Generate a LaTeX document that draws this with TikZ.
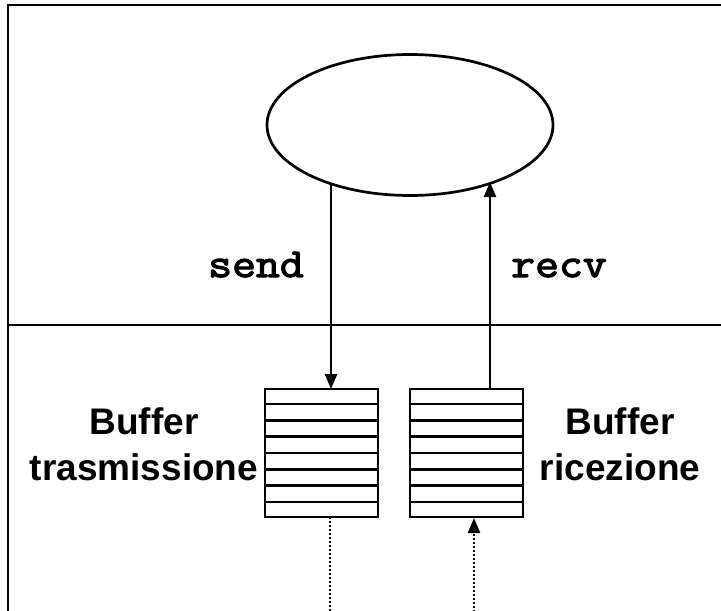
\documentclass[tikz,border=0pt]{standalone}
\usepackage{fontspec}
\setmainfont{Liberation Sans}
\newfontfamily\monob[FakeBold=3,FakeStretch=1.13]{Latin Modern Mono}
\usetikzlibrary{shapes.geometric,arrows.meta,calc}
\begin{document}
\begin{tikzpicture}[x=1pt,y=-1pt,line width=2.7pt,
  tip/.style={-{Triangle[length=15pt,width=12pt]}},
  bufbox/.style={draw,rectangle,minimum width=113pt,minimum height=128pt,inner sep=0pt},
  lbl/.style={font=\fontsize{37}{46}\selectfont\bfseries,align=center,anchor=base,inner sep=0pt},
  code/.style={font=\fontsize{41}{44}\selectfont\monob,anchor=base,inner sep=0pt},
  dotline/.style={line width=2.2pt,dash pattern=on 2pt off 2pt}]
\useasboundingbox (0,0) rectangle (721,611);
% frame
\coordinate (tr) at (722,5);
\coordinate (tl) at (8,5);
\coordinate (bl) at (8,612);
\coordinate (ml) at (8,325);
\coordinate (mr) at (722,325);
\draw (tr) -- (tl) -- (bl);
\draw (ml) -- (mr);
% process
\node[ellipse,draw,minimum width=286pt,minimum height=141pt,inner sep=0pt] (proc) at (410,125) {};
% buffers
\node[bufbox] (tx) at (321.5,453) {};
\node[bufbox] (rx) at (466.5,453) {};
\foreach \b in {tx,rx}{
  \foreach \i in {1,...,7}{
    \draw ($(\b.north west)!\i/8!(\b.south west)$) -- ($(\b.north east)!\i/8!(\b.south east)$);
  }
}
% connectors
\coordinate (s0) at (331,184);
\coordinate (s1) at (331,389);
\coordinate (r0) at (490,389);
\coordinate (r1) at (490,182);
\draw[tip] (s0) -- (s1);
\draw[tip] (r0) -- (r1);
\coordinate (d0) at (330,517);
\coordinate (d1) at (330,612);
\coordinate (e0) at (474,612);
\coordinate (e1) at (474,518);
\draw[dotline] (d0) -- (d1);
\draw[dotline,tip] (e0) -- (e1);
% labels
\node[code] (send) at (256,277) {send};
\node[code] (recv) at (559,277) {recv};
\node[lbl] (ltx) at (144,480) {Buffer\\trasmissione};
\node[lbl] (lrx) at (620,480) {Buffer\\ricezione};
\end{tikzpicture}
\end{document}
